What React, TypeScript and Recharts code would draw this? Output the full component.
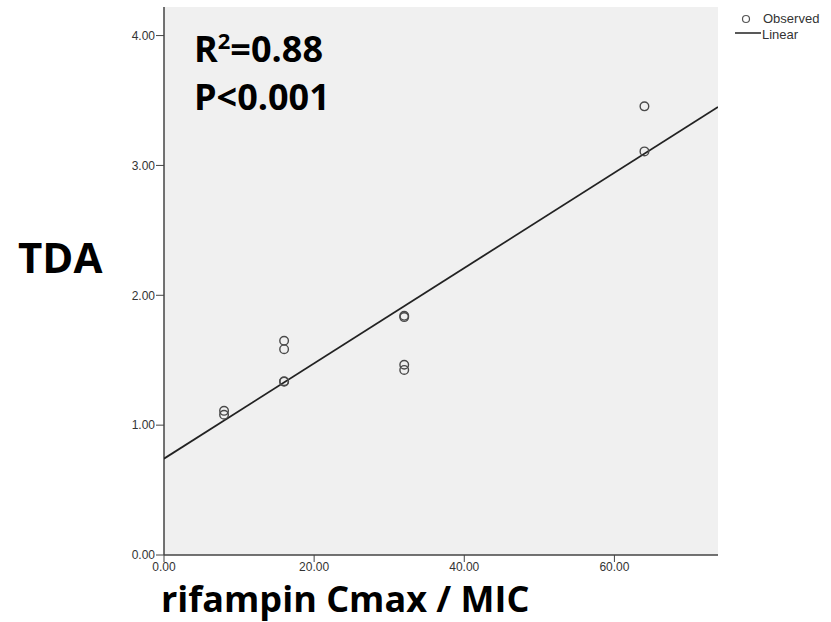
import React from "react";
import { ComposedChart, Scatter, XAxis, YAxis, CartesianGrid } from "recharts";

// observed points (rifampin Cmax/MIC vs TDA)
const cmaxMic = [8, 8, 16, 16, 16, 16, 32, 32, 32, 32, 64, 64];
const tda = [1.08, 1.11, 1.65, 1.585, 1.335, 1.338, 1.465, 1.425, 1.832, 1.842, 3.455, 3.108];

// fitted linear model
const fitIntercept = 0.742;
const fitSlope = 0.0367;

const xTicks = [0, 20, 40, 60];
const yTicks = [0, 1, 2, 3, 4];
const xMax = 73.8;
const yMax = 4.22;

const observed = cmaxMic.map((x, i) => ({ x, y: tda[i] }));
const linear = [0, xMax].map((x) => ({ x, y: fitIntercept + fitSlope * x }));

const tickStyle = { fontSize: 12, fill: "#333", fontFamily: "Liberation Sans, Arial, sans-serif" };
const legendStyle = { fontSize: 13, fill: "#333", fontFamily: "Liberation Sans, Arial, sans-serif" };
const bold = { fontFamily: "'Open Sans', sans-serif", fontWeight: 700, color: "#000", lineHeight: 1, position: "absolute" as const, whiteSpace: "nowrap" as const };

export default function App() {
  return (
    <div style={{ position: "absolute", left: 0, top: 0, width: 831, height: 622, background: "#fff", overflow: "hidden" }}>
      <ComposedChart width={831} height={622} margin={{ top: 7, right: 113, bottom: 37, left: 104 }}>
        <CartesianGrid fill="#f0f0f0" horizontal={false} vertical={false} />
        <XAxis
          type="number"
          dataKey="x"
          domain={[0, xMax]}
          ticks={xTicks}
          allowDataOverflow
          height={30}
          tick={tickStyle}
          tickFormatter={(v: number) => v.toFixed(2)}
          tickSize={7}
          tickMargin={0}
          stroke="#444"
          axisLine={{ stroke: "#444", strokeWidth: 1.5 }}
        />
        <XAxis xAxisId="top" type="number" orientation="top" domain={[0, xMax]} height={0} tick={false} tickLine={false} axisLine={{ stroke: "#444", strokeWidth: 1.5 }} />
        <YAxis
          type="number"
          dataKey="y"
          domain={[0, yMax]}
          ticks={yTicks}
          allowDataOverflow
          width={60}
          tick={tickStyle}
          tickFormatter={(v: number) => v.toFixed(2)}
          tickSize={8}
          tickMargin={1}
          stroke="#444"
          axisLine={{ stroke: "#444", strokeWidth: 1.5 }}
        />
        <YAxis yAxisId="right" type="number" orientation="right" domain={[0, yMax]} width={0} tick={false} tickLine={false} axisLine={{ stroke: "#444", strokeWidth: 1.5 }} />
        <Scatter
          data={linear}
          line={{ stroke: "#222", strokeWidth: 1.8 }}
          shape={() => <g />}
          isAnimationActive={false}
        />
        <Scatter
          data={observed}
          shape={(p: any) => <circle cx={p.cx} cy={p.cy} r={4.3} fill="none" stroke="#4a4a4a" strokeWidth={1.4} />}
          isAnimationActive={false}
        />
      </ComposedChart>

      <div style={{ ...bold, left: 194, top: 31, fontSize: 36 }}>
        R<sup style={{ fontSize: 22, verticalAlign: "top", position: "relative", top: -2 }}>2</sup>=0.88
      </div>
      <div style={{ ...bold, left: 194, top: 79, fontSize: 36 }}>P&lt;0.001</div>
      <div style={{ ...bold, left: 18, top: 236, fontSize: 42 }}>TDA</div>
      <div style={{ ...bold, left: 161, top: 581, fontSize: 36, lineHeight: "36px", height: 36 }}>rifampin Cmax / MIC</div>

      <svg style={{ position: "absolute", left: 0, top: 0 }} width={831} height={60}>
        <circle cx={746} cy={19} r={3.5} fill="none" stroke="#555" strokeWidth={1.2} />
        <text x={763} y={23} style={legendStyle}>Observed</text>
        <line x1={735} y1={33} x2={761} y2={33} stroke="#222" strokeWidth={1.5} />
        <text x={762} y={39} style={legendStyle}>Linear</text>
      </svg>
    </div>
  );
}
